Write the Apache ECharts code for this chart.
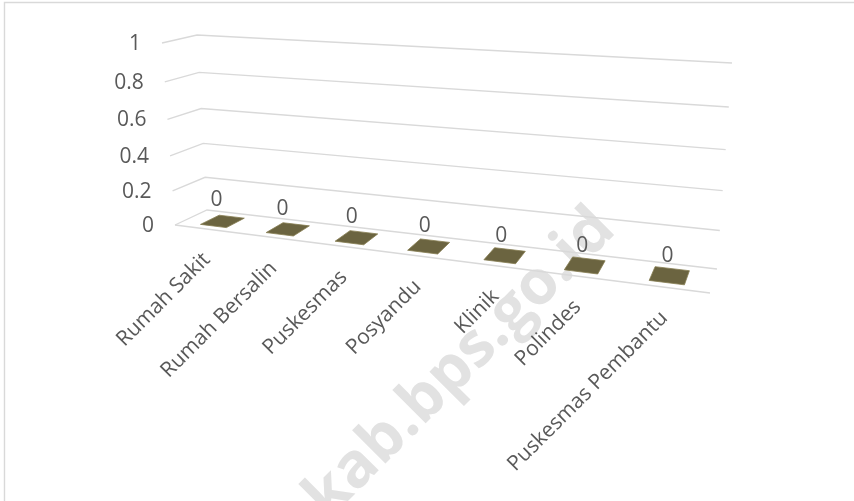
<!DOCTYPE html>
<html><head><meta charset="utf-8">
<script src="https://cdn.jsdelivr.net/npm/echarts@6.0.0/dist/echarts.min.js"></script>
<style>html,body{margin:0;padding:0;background:#fff}#c{width:854px;height:501px}</style>
</head><body><div id="c"></div>
<script>
// ---- data ----
const categories = ['Rumah Sakit', 'Rumah Bersalin', 'Puskesmas', 'Posyandu', 'Klinik', 'Polindes', 'Puskesmas Pembantu'];
const values = [0, 0, 0, 0, 0, 0, 0];
const yTicks = [0, 0.2, 0.4, 0.6, 0.8, 1];
const yTickLabels = ['0', '0.2', '0.4', '0.6', '0.8', '1'];
const watermarkText = 'kab.bps.go.id';

// ---- 3D-look frame geometry (pixels) ----
const BACK = {bl: [207, 210], br: [717, 269], tr: [732, 63], tl: [197, 35]};
const FRONT = {bl: [175, 225], br: [710, 293], tr: [722, 80], tl: [162, 43]};
const KU = -0.165, KV = -0.08;
function pu(u) { return (1 + KU) * u / (1 + KU * u); }
function pv(v) { return (1 + KV) * v / (1 + KV * v); }
function bil(q, s, t) {
  const bx = q.bl[0] + (q.br[0] - q.bl[0]) * s, by = q.bl[1] + (q.br[1] - q.bl[1]) * s;
  const tx = q.tl[0] + (q.tr[0] - q.tl[0]) * s, ty = q.tl[1] + (q.tr[1] - q.tl[1]) * s;
  return [bx + (tx - bx) * t, by + (ty - by) * t];
}
function P(u, v, w) {
  const s = pu(u), t = pv(v);
  const b = bil(BACK, s, t), f = bil(FRONT, s, t);
  return [f[0] + (b[0] - f[0]) * w, f[1] + (b[1] - f[1]) * w];
}
function norm(params, api, cat, val) {
  const cs = params.coordSys;
  const p = api.coord([cat, val]);
  return [(p[0] - cs.x) / cs.width, (cs.y + cs.height - p[1]) / cs.height];
}

const FS = 21, FF = '"Open Sans", sans-serif';
const TXT = '#595959';
const GRIDC = '#d9d9d9';

const chart = echarts.init(document.getElementById('c'), null, {renderer: 'canvas'});
chart.setOption({
  animation: false,
  backgroundColor: '#ffffff',
  grid: {left: 200, right: 130, top: 40, bottom: 270},
  xAxis: {type: 'category', data: categories, show: false},
  yAxis: {type: 'value', min: 0, max: 1, interval: 0.2, show: false},
  graphic: [
    {type: 'rect', z: 0, shape: {x: 4.5, y: 2.5, width: 870, height: 520},
     style: {fill: null, stroke: '#d9d9d9', lineWidth: 1.4}},
    {type: 'text', z: 0, x: 605, y: 219, rotation: Math.PI / 4,
     style: {text: watermarkText, fontSize: 62, fontWeight: 'bold', fontFamily: FF, fill: '#e2e2e2', align: 'right', verticalAlign: 'middle'}}
  ],
  series: [
    {
      type: 'custom', z: 3,
      data: yTicks.map(function (v) { return [0, v]; }),
      encode: {x: 0, y: 1},
      renderItem: function (params, api) {
        const v = norm(params, api, 0, api.value(1))[1];
        const children = [{
          type: 'polyline', shape: {points: [P(0, v, 0), P(0, v, 1), P(1, v, 1)]},
          style: {stroke: GRIDC, lineWidth: 1.3, fill: null}
        }];
        if (params.dataIndex === 0) {
          children.push({type: 'polyline', shape: {points: [P(0, 0, 0), P(1, 0, 0)]},
            style: {stroke: GRIDC, lineWidth: 1.3, fill: null}});
        }
        const lp = P(0, v, 0);
        children.push({type: 'text', x: lp[0] - 21, y: lp[1] + 1,
          style: {text: yTickLabels[params.dataIndex], align: 'right', verticalAlign: 'middle', fontSize: FS, fontFamily: FF, fill: TXT}});
        return {type: 'group', children: children};
      }
    },
    {
      type: 'custom', z: 4,
      data: values.map(function (v, i) { return [i, v]; }),
      encode: {x: 0, y: 1},
      renderItem: function (params, api) {
        const cs = params.coordSys;
        const i = api.value(0), val = api.value(1);
        const uv = norm(params, api, i, val);
        const u = uv[0], v = uv[1];
        const half = api.size([1, 0])[0] / cs.width * 0.2;
        const w0 = 0.2, w1 = 0.8;
        const children = [];
        if (v > 0.0001) {
          children.push({type: 'polygon', shape: {points: [P(u - half, 0, w0), P(u + half, 0, w0), P(u + half, v, w0), P(u - half, v, w0)]},
            style: {fill: '#6b6440'}});
        }
        children.push({type: 'polygon', shape: {points: [P(u - half, v, w0), P(u + half, v, w0), P(u + half, v, w1), P(u - half, v, w1)]},
          style: {fill: '#6b6440', stroke: '#857c50', lineWidth: 0.8}});
        const lp = P(u, v, 0.3);
        children.push({type: 'text', x: lp[0], y: lp[1] - 24,
          style: {text: String(val), align: 'center', verticalAlign: 'middle', fontSize: FS, fontFamily: FF, fill: TXT}});
        const cp = P(u, 0, 0);
        children.push({type: 'text', x: cp[0] - 8, y: cp[1] + 20, rotation: Math.PI / 4,
          style: {text: categories[i], align: 'right', verticalAlign: 'top', fontSize: FS, fontFamily: FF, fill: TXT}});
        return {type: 'group', children: children};
      }
    }
  ]
});
</script>
</body></html>
